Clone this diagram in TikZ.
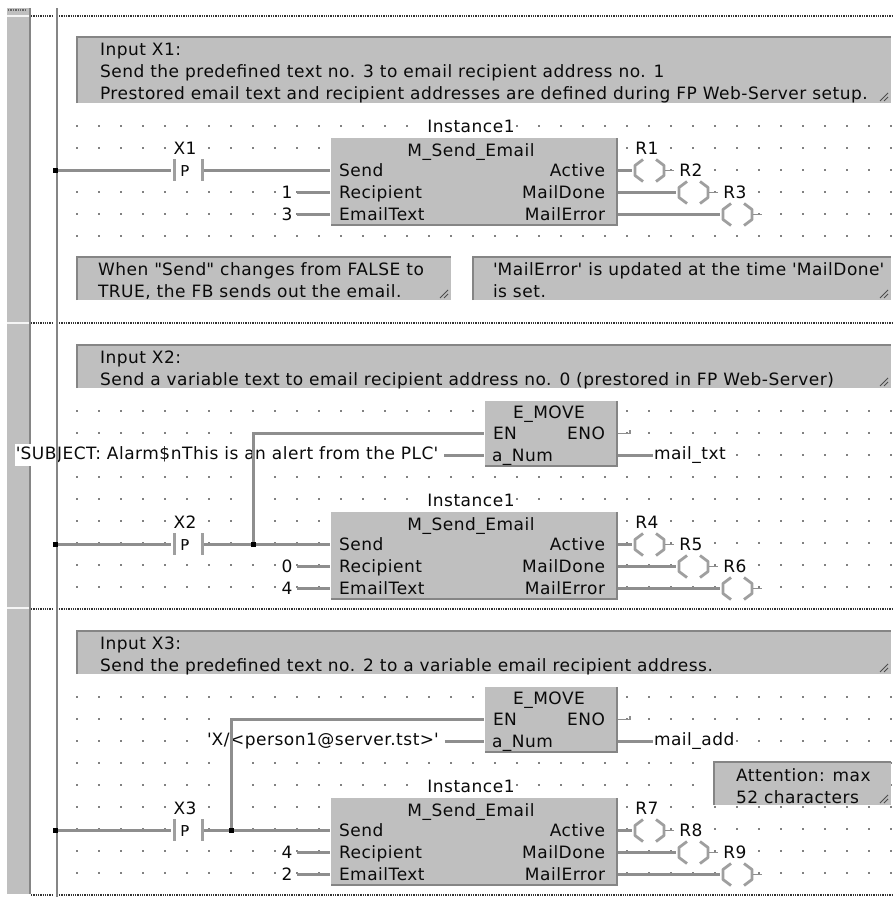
\documentclass[tikz,border=0pt]{standalone}
\usepackage{fontspec}
\setmainfont{DejaVu Sans}[LetterSpace=3]
\usetikzlibrary{calc}
\definecolor{panel}{HTML}{BFBFBF}
\definecolor{edge}{HTML}{858585}
\definecolor{wirec}{HTML}{8E8E8E}
\definecolor{ink}{HTML}{0A0A0A}
\tikzset{
  x=1pt,y=-1pt,
  every node/.style={font=\fontsize{17}{22}\selectfont,text=ink,inner sep=0pt,outer sep=0pt},
  wire/.style={draw=wirec,line width=2.4pt},
  lbl/.style={fill=white,inner xsep=1pt,inner ysep=0pt},
  pinl/.style={anchor=base west},
  pinr/.style={anchor=base east},
  cmt/.style={anchor=base west},
  railpt/.style={fill=black,minimum size=5pt,draw=none},
}
\newcommand{\dotrows}[3]{%
  \foreach \yy in {#1,#2,...,#3}{\foreach \xx in {77,99,...,891}{\fill[black] (\xx,\yy) circle (0.85);}}}
\newcommand{\cmtbox}[5]{%
  \fill[panel] (#2,#3) rectangle (#4,#5);
  \draw[edge,line width=1.4pt] (#2,#5) -- (#2,#3) -- (#4,#3);
  \draw[black!70,line width=.9pt] (#4-11,#5-2) -- (#4-3,#5-10) (#4-7,#5-2) -- (#4-3,#5-6);
  \coordinate (#1) at (#2,#3);}
\newcommand{\coilsym}[3]{%
  \coordinate (#1l) at (#2,#3);
  \coordinate (#1r) at ($(#2,#3)+(42,0)$);
  \fill[white] ($(#2,#3)+(1,-12)$) rectangle ($(#2,#3)+(35,12)$);
  \draw[wirec!85,line width=2.8pt,line join=round] ($(#2,#3)+(11,-11)$) -- ($(#2,#3)+(3,-5)$) -- ($(#2,#3)+(3,5)$) -- ($(#2,#3)+(11,11)$);
  \draw[wirec!85,line width=2.8pt,line join=round] ($(#2,#3)+(24,-11)$) -- ($(#2,#3)+(32,-5)$) -- ($(#2,#3)+(32,5)$) -- ($(#2,#3)+(24,11)$);
  \draw[wire,line width=1.8pt] ($(#2,#3)+(33,0)$) -- (#1r);
}
\newcommand{\fbrung}[8]{%
  \begin{scope}[shift={(0,#2)}]
  \node[lbl] (inst#1) at (471,126) {Instance1};
  \fill[panel] (331,138) rectangle (617,225);
  \draw[edge,line width=1.4pt] (331,225) -- (617,225) -- (617,138);
  \node (fb#1) at (471,152) {M\_Send\_Email};
  \node[pinl] (send#1) at (339,176) {Send};
  \node[pinl] (rec#1) at (339,198) {Recipient};
  \node[pinl] (txt#1) at (339,220) {EmailText};
  \node[pinr] (act#1) at (605,176) {Active};
  \node[pinr] (don#1) at (605,198) {MailDone};
  \node[pinr] (err#1) at (605,220) {MailError};
  \node[lbl] (x#1) at (185,148) {#3};
  \node[railpt] (rail#1) at (55.5,170) {};
  \node[font=\fontsize{15}{16}\selectfont] (p#1) at (185,171) {P};
  \coordinate (cl#1) at (171,170.5); \coordinate (cr#1) at (204,170.5);
  \draw[wirec!85,line width=3pt] (174.5,159) -- (174.5,181) (202,159) -- (202,181);
  \draw[wire] (rail#1.center |- cl#1) -- (cl#1);
  \coordinate (fia#1) at (330,170.5); \coordinate (fib#1) at (330,192.5); \coordinate (fic#1) at (330,214.5);
  \draw[wire] (cr#1) -- (fia#1);
  \node[lbl] (ca#1) at (287,192) {#7};
  \node[lbl] (cb#1) at (287,214) {#8};
  \draw[wire] (297,192.5) -- (fib#1);
  \draw[wire] (297,214.5) -- (fic#1);
  \coordinate (oa#1) at (618,170.5); \coordinate (ob#1) at (618,192.5); \coordinate (oc#1) at (618,214.5);
  \coilsym{ka#1}{632}{170.5}
  \coilsym{kb#1}{676}{192.5}
  \coilsym{kc#1}{720}{214.5}
  \draw[wire] (oa#1) -- (ka#1l);
  \draw[wire] (ob#1) -- (kb#1l);
  \draw[wire] (oc#1) -- (kc#1l);
  \node[lbl] (ra#1) at (647,148) {#4};
  \node[lbl] (rb#1) at (691,170) {#5};
  \node[lbl] (rc#1) at (735,192) {#6};
  \end{scope}}
\newcommand{\moveblk}[5]{%
  \begin{scope}[shift={(0,#2)}]
  \fill[panel] (485,401) rectangle (617,466);
  \draw[edge,line width=1.4pt] (485,466) -- (617,466) -- (617,401);
  \node (mv#1) at (549,414) {E\_MOVE};
  \node[pinl] (en#1) at (493,439) {EN};
  \node[pinr] (eno#1) at (605,439) {ENO};
  \node[pinl] (num#1) at (492,461) {a\_Num};
  \node[fill=white,inner xsep=1pt,inner ysep=3pt,anchor=west] (k#1) at (#4,455) {#3};
  \node[fill=white,inner xsep=1pt,inner ysep=3pt,anchor=west] (out#1) at (653,455) {#5};
  \coordinate (ei#1) at (484,433.5); \coordinate (ni#1) at (484,455.5);
  \coordinate (eo#1) at (630,433.5); \coordinate (no#1) at (618,455.5);
  \draw[wire] ($(k#1.east |- ni#1)+(5,0)$) -- (ni#1);
  \draw[wire] (no#1) -- (out#1.west |- no#1);
  \draw[wire,line width=1.8pt] (618,433.5) -- (eo#1) -- ++(0,-4);
  \end{scope}}
\begin{document}
\begin{tikzpicture}
\useasboundingbox (0,0) rectangle (893,897);
\fill[white] (0,0) rectangle (893,897);
\fill[panel] (7,8) rectangle (30,894);
\foreach \yy in {16,323,608}{\fill[white!85!panel] (7,\yy-0.8) rectangle (29,\yy+0.8);}
\draw[edge,line width=1.8pt] (30,8) -- (30,894);
\draw[black!60,densely dotted,line width=1.4pt] (8,10) -- (27,10);
\foreach \yy in {16,323,609,895}{\draw[black!80,densely dotted,line width=1.3pt] (31,\yy) -- (52,\yy) (59,\yy) -- (893,\yy);}
\dotrows{126}{148}{236}
\dotrows{411}{433}{587}
\dotrows{697}{719}{873}
\cmtbox{cm1}{77}{37}{891}{103}
\node[cmt] (t1a) at (100,55) {Input X1:};
\node[cmt] (t1b) at (100,77) {Send the predefined text no. 3 to email recipient address no. 1};
\node[cmt] (t1c) at (100,99) {Prestored email text and recipient addresses are defined during FP Web-Server setup.};
\cmtbox{cm2}{77}{257}{451}{300}
\node[cmt] (t2a) at (98,275) {When \textquotedbl Send\textquotedbl{} changes from FALSE to};
\node[cmt] (t2b) at (98,297) {TRUE, the FB sends out the email.};
\cmtbox{cm3}{473}{257}{891}{300}
\node[cmt] (t3a) at (493,275) {\textquotesingle MailError\textquotesingle{} is updated at the time \textquotesingle MailDone\textquotesingle};
\node[cmt] (t3b) at (493,297) {is set.};
\cmtbox{cm4}{77}{345}{891}{388}
\node[cmt] (t4a) at (100,363) {Input X2:};
\node[cmt] (t4b) at (100,385) {Send a variable text to email recipient address no. 0 (prestored in FP Web-Server)};
\cmtbox{cm5}{77}{631}{891}{674}
\node[cmt] (t5a) at (100,649) {Input X3:};
\node[cmt] (t5b) at (100,671) {Send the predefined text no. 2 to a variable email recipient address.};
\cmtbox{cm6}{714}{762}{891}{805}
\node[cmt] (t6a) at (736,781) {Attention: max};
\node[cmt] (t6b) at (736,803) {52 characters};
\fbrung{A}{0}{X1}{R1}{R2}{R3}{1}{3}
\fbrung{B}{374}{X2}{R4}{R5}{R6}{0}{4}
\fbrung{C}{660}{X3}{R7}{R8}{R9}{4}{2}
\moveblk{B}{0}{\textquotesingle SUBJECT: Alarm\$nThis is an alert from the PLC\textquotesingle}{15}{mail\_txt}
\moveblk{C}{286}{\textquotesingle X/<person1@server.tst>\textquotesingle}{206}{mail\_add}
\draw[edge,line width=2.6pt] (57,8) -- (57,897);
\node[railpt] at (55.5,170) {};
\node[railpt] at (55.5,544) {};
\node[railpt] at (55.5,830) {};
\node[railpt] (jB) at (253.5,544) {};
\node[railpt] (jC) at (231.5,830) {};
\draw[wire] (jB) |- (eiB);
\draw[wire] (jC) |- (eiC);
\end{tikzpicture}
\end{document}
